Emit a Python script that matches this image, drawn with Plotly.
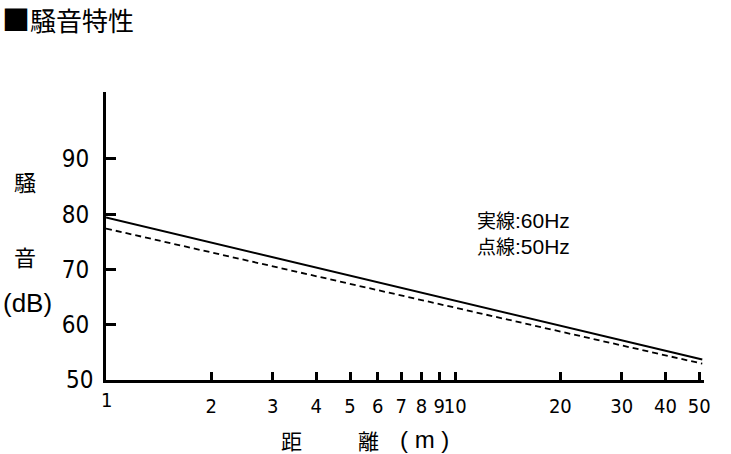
import plotly.graph_objects as go

# ---- data ----
distance_m = [1, 51]
noise_60hz = [79.4, 53.7]   # 実線
noise_50hz = [77.4, 52.95]  # 点線
x_tick_vals = [1, 2, 3, 4, 5, 6, 7, 8, 9, 10, 20, 30, 40, 50]
x_tick_text = ["1", "2", "3", "4", "5", "6", "7", "8", "9", "10", "20", "30", "40", "50"]
y_tick_vals = [50, 60, 70, 80, 90]

W, H = 731, 454
L, R, T, B = 106, 27, 92, 74
pw, ph = W - L - R, H - T - B

def px(x):  # page pixel -> paper x
    return (x - L) / pw

def py(y):  # page pixel -> paper y
    return (H - B - y) / ph

NUM = "DejaVu Sans Condensed, Liberation Sans, Arial"
SANS = "Liberation Sans, Arial"
CJK = "Noto Sans CJK JP, sans-serif"

fig = go.Figure()
fig.add_trace(go.Scatter(x=distance_m, y=noise_60hz, mode="lines",
                         line=dict(color="black", width=2), showlegend=False))
fig.add_trace(go.Scatter(x=distance_m, y=noise_50hz, mode="lines",
                         line=dict(color="black", width=1.8, dash="6px,4px"), showlegend=False))

fig.update_xaxes(type="log", range=[0, 1.7125], tickvals=x_tick_vals[1:], ticktext=x_tick_text[1:],
                 tickangle=0, ticks="inside", ticklen=8, tickwidth=3, tickcolor="black",
                 showline=True, linecolor="black", linewidth=3, showgrid=False, zeroline=False,
                 tickfont=dict(family=NUM, size=20, color="black"), ticklabelstandoff=6)
fig.update_yaxes(range=[50, 102.1], tickvals=y_tick_vals[1:], ticks="inside", ticklen=10, tickwidth=3,
                 tickcolor="black", showline=True, linecolor="black", linewidth=3, showgrid=False,
                 zeroline=False, tickfont=dict(family=NUM, size=24, color="black"), ticklabelstandoff=9)

def note(x, y, text, font, xanchor="center", xref="paper", yref="paper"):
    return dict(x=x, y=y, xref=xref, yref=yref, text=text, showarrow=False,
                xanchor=xanchor, yanchor="middle", font=font)

ann = []
ann.append(note(0, py(400), x_tick_text[0], dict(family=NUM, size=20, color="black"), xref="x"))
ann.append(note(px(95), 50, str(y_tick_vals[0]), dict(family=NUM, size=24, color="black"),
                xanchor="right", yref="y"))
# title
ann.append(note(px(0), py(19), "<span style='font-size:28px'>■</span>騒音特性",
                dict(family=CJK, size=26, color="black"), xanchor="left"))
# y title
ann.append(note(px(25), py(181), "騒", dict(family=CJK, size=22, color="black")))
ann.append(note(px(25), py(256), "音", dict(family=CJK, size=22, color="black")))
ann.append(note(px(27), py(303), "(dB)", dict(family=SANS, size=26, color="black")))
# x title
ann.append(note(px(291), py(440), "距", dict(family=CJK, size=21, color="black")))
ann.append(note(px(368), py(440), "離", dict(family=CJK, size=21, color="black")))
ann.append(note(px(424), py(439), "( m )", dict(family=SANS, size=24, color="black")))
# legend text
leg = "<span style='font-family:Liberation Sans, Arial; font-size:21px'>:{}</span>"
ann.append(note(px(475), py(219), "実線" + leg.format("60Hz"),
                dict(family=CJK, size=19, color="black"), xanchor="left"))
ann.append(note(px(475), py(245), "点線" + leg.format("50Hz"),
                dict(family=CJK, size=19, color="black"), xanchor="left"))

fig.update_layout(width=W, height=H, margin=dict(l=L, r=R, t=T, b=B, autoexpand=False),
                  plot_bgcolor="white", paper_bgcolor="white", annotations=ann)
fig.write_html("out.html", config={"displayModeBar": False},
               post_script="document.body.style.margin='0px';")
